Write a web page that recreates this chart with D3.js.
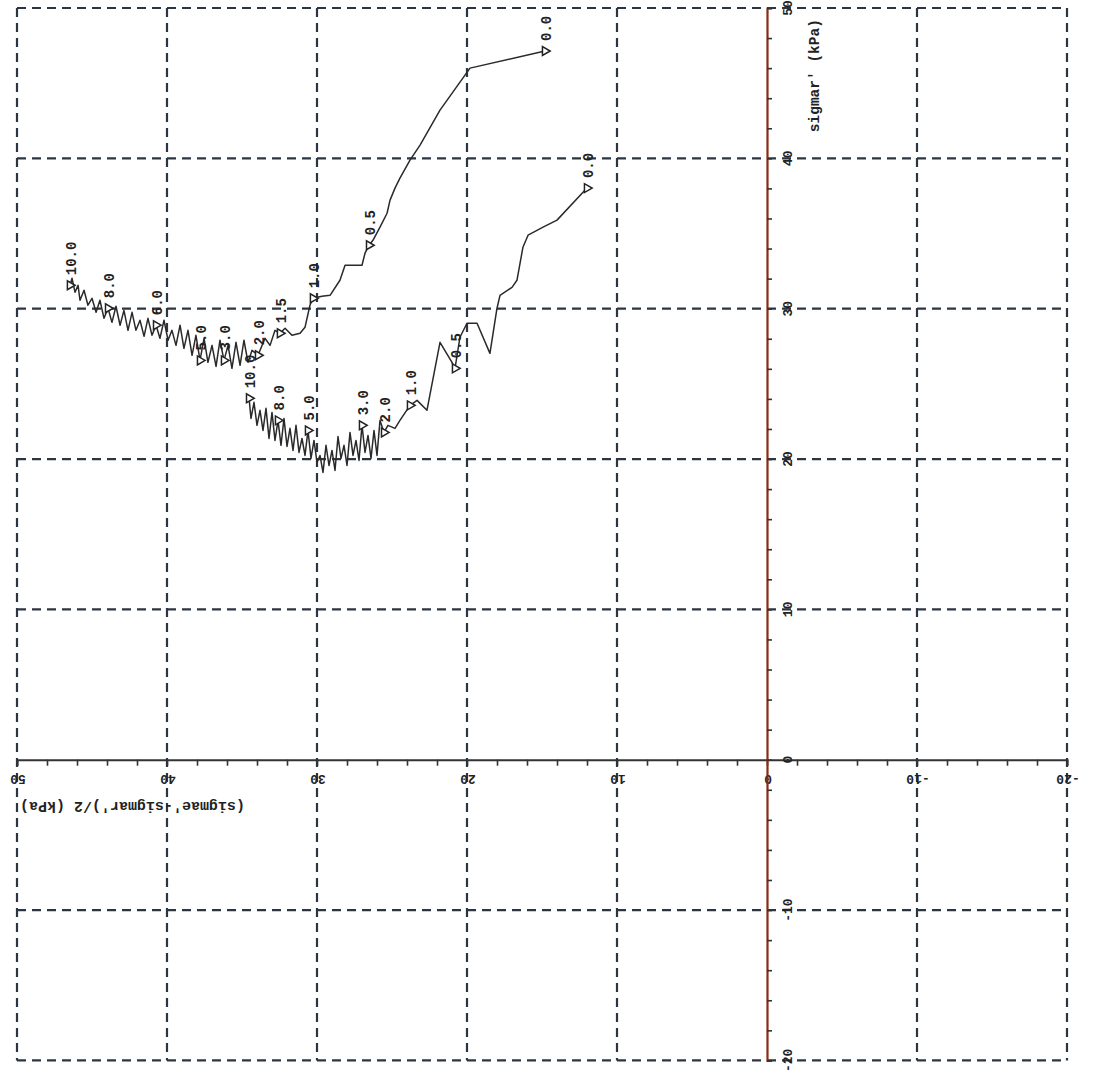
<!DOCTYPE html>
<html>
<head>
<meta charset="utf-8">
<script src="https://cdn.jsdelivr.net/npm/d3@7"></script>
<style>
  html, body { margin: 0; padding: 0; background: #fff; }
  svg { display: block; }
  text { font-family: "Liberation Mono", "DejaVu Sans Mono", monospace; font-weight: bold; fill: #222; }
</style>
</head>
<body>
<svg id="chart" width="1093" height="1076"></svg>
<script>
// Stress path, first test: [ (sigmae'-sigmar')/2 , sigmar' ] in kPa
const pathA = [
  [14.8, 47.14], [19.8, 46.0], [21.8, 43.21], [23.13, 40.88], [23.8, 39.88], [24.47, 38.68],
  [24.8, 38.02], [25.13, 37.22], [25.33, 36.35], [25.8, 35.42], [26.27, 34.55], [26.53, 34.22],
  [26.8, 33.69], [27.0, 32.89], [28.13, 32.89], [28.47, 31.89], [29.13, 30.89], [29.67, 30.83],
  [30.27, 30.69], [30.47, 30.23], [30.8, 28.76], [31.13, 28.36], [31.67, 28.23], [32.13, 28.7],
  [32.47, 28.36], [32.8, 28.56], [33.13, 27.56], [33.47, 28.03], [33.93, 26.9], [34.33, 27.23],
  [34.6, 26.43], [34.87, 27.9], [35.13, 26.23], [35.4, 27.76], [35.67, 26.03], [35.93, 27.56],
  [36.2, 26.56], [36.47, 27.9], [36.73, 26.16], [37.0, 27.56], [37.27, 26.43], [37.53, 28.03],
  [37.8, 26.56], [38.07, 28.23], [38.33, 26.9], [38.6, 28.56], [38.87, 27.36], [39.13, 28.9],
  [39.4, 27.56], [39.67, 28.56], [39.93, 27.9], [40.2, 29.23], [40.47, 28.03], [40.73, 28.9],
  [41.0, 28.23], [41.27, 29.36], [41.53, 28.16], [41.8, 29.23], [42.07, 28.56], [42.33, 29.76],
  [42.6, 28.56], [42.87, 29.89], [43.13, 28.9], [43.4, 30.16], [43.67, 29.09], [43.93, 30.03],
  [44.2, 29.36], [44.47, 30.56], [44.73, 29.76], [45.0, 30.69], [45.27, 30.23], [45.53, 31.23],
  [45.8, 30.56], [45.93, 31.56], [46.13, 31.09], [46.33, 32.02], [46.47, 31.56]
];
// Axial strain (%) written beside points of the first path: [point index, label]
const strainA = [[0, "0.0"], [11, "0.5"], [18, "1.0"], [24, "1.5"], [28, "2.0"], [36, "3.0"],
                 [42, "5.0"], [53, "6.0"], [65, "8.0"], [76, "10.0"]];

// Stress path, second test
const pathB = [
  [12.0, 38.02], [14.0, 35.89], [14.93, 35.42], [15.93, 34.89], [16.27, 34.09], [16.67, 31.89],
  [17.0, 31.42], [17.8, 30.89], [18.0, 30.03], [18.47, 27.03], [19.33, 29.03], [20.0, 29.03],
  [20.47, 28.1], [20.8, 26.03], [21.0, 26.43], [21.8, 27.76], [22.67, 23.24], [23.33, 23.9],
  [23.8, 23.57], [24.47, 22.57], [24.8, 22.04], [25.27, 22.24], [25.53, 21.77],
  [25.8, 22.57], [26.0, 20.24], [26.2, 21.9], [26.4, 20.04], [26.6, 21.57], [26.8, 20.44],
  [27.0, 22.24], [27.2, 19.91], [27.4, 21.24], [27.6, 20.24], [27.8, 21.77], [28.0, 19.57],
  [28.2, 20.91], [28.4, 20.04], [28.6, 21.5], [28.8, 19.24], [29.0, 20.57], [29.2, 19.57],
  [29.4, 20.91], [29.6, 19.11], [29.8, 20.24], [30.0, 19.77], [30.2, 21.24], [30.4, 20.04],
  [30.6, 21.9], [30.8, 20.24], [31.0, 21.37], [31.2, 20.44], [31.4, 22.24], [31.6, 20.57],
  [31.8, 22.04], [32.0, 20.84], [32.2, 22.7], [32.4, 20.91], [32.6, 22.57], [32.8, 21.24],
  [33.0, 23.1], [33.2, 21.37], [33.4, 23.37], [33.6, 21.9], [33.8, 23.24], [34.0, 22.24],
  [34.2, 23.77], [34.4, 22.7], [34.53, 24.04]
];
const strainB = [[0, "0.0"], [13, "0.5"], [18, "1.0"], [22, "2.0"], [29, "3.0"],
                 [47, "5.0"], [57, "8.0"], [67, "10.0"]];

// Axis ticks and titles
const xGridValues = [50, 40, 30, 20, 10, 0, -10, -20];
const yGridValues = [50, 40, 30, 20, 10, 0, -10, -20];
const xTitle = "(sigmae'-sigmar')/2 (kPa)";
const yTitle = "sigmar' (kPa)";

const svg = d3.select("#chart");
const x = d3.scaleLinear().domain([50, -20]).range([17, 1067]);
const y = d3.scaleLinear().domain([-20, 50]).range([1060.4, 8]);

const gridColor = "#2c3642";

// Dashed grid and frame
const grid = svg.append("g");
grid.selectAll("line.v").data(xGridValues.filter(v => v !== 0)).join("line")
  .attr("x1", d => x(d)).attr("x2", d => x(d))
  .attr("y1", y(50)).attr("y2", y(-20))
  .attr("stroke", gridColor).attr("stroke-width", 2.2).attr("stroke-dasharray", "9,6");
grid.selectAll("line.h").data(yGridValues.filter(v => v !== 0)).join("line")
  .attr("y1", d => y(d)).attr("y2", d => y(d))
  .attr("x1", x(50)).attr("x2", x(-20))
  .attr("stroke", gridColor).attr("stroke-width", 2.2).attr("stroke-dasharray", "9,6");

// Horizontal axis through sigmar' = 0
const xAxis = d3.axisBottom(x).tickValues(d3.range(-20, 50.1, 2)).tickSize(6).tickFormat("");
const gx = svg.append("g").attr("transform", `translate(0,${y(0)})`).call(xAxis);
gx.select(".domain").attr("stroke", "#333").attr("stroke-width", 2);
gx.selectAll(".tick line").attr("stroke", "#333").attr("stroke-width", 1.6);
// Tick labels, turned upside down
svg.append("g").selectAll("text").data(xGridValues).join("text")
  .attr("transform", d => `translate(${x(d) + 1},${y(0) + 19}) rotate(180)`)
  .attr("text-anchor", "middle").attr("dominant-baseline", "central")
  .attr("font-size", 13).text(d => d);

// Vertical axis through zero deviator stress
const yAxis = d3.axisRight(y).tickValues(d3.range(-20, 50.1, 2)).tickSize(5).tickFormat("");
const gy = svg.append("g").attr("transform", `translate(${x(0)},0)`).call(yAxis);
gy.select(".domain").attr("stroke", "#8a2a12").attr("stroke-width", 2.2);
gy.selectAll(".tick line").attr("stroke", "#333").attr("stroke-width", 1.6);
svg.append("g").selectAll("text").data(yGridValues).join("text")
  .attr("transform", d => `translate(${x(0) + 21},${y(d)}) rotate(-90)`)
  .attr("text-anchor", "middle").attr("dominant-baseline", "central")
  .attr("font-size", 13).text(d => d);

// Axis titles
svg.append("text")
  .attr("transform", `translate(${x(42.3)},${y(0) + 46}) rotate(180)`)
  .attr("text-anchor", "middle").attr("dominant-baseline", "central")
  .attr("font-size", 15).text(xTitle);
svg.append("text")
  .attr("transform", `translate(${x(0) + 48},${y(45.5)}) rotate(-90)`)
  .attr("text-anchor", "middle").attr("dominant-baseline", "central")
  .attr("font-size", 14.5).text(yTitle);

// Stress paths
const line = d3.line().x(d => x(d[0])).y(d => y(d[1]));
const paths = svg.append("g");
[pathA, pathB].forEach(p => {
  paths.append("path").datum(p).attr("d", line)
    .attr("fill", "none").attr("stroke", "#2a2a2a").attr("stroke-width", 1.5)
    .attr("stroke-linejoin", "round");
});

// Strain markers and labels
const tri = d3.symbol().type(d3.symbolTriangle).size(34);
function marks(p, labels) {
  const g = svg.append("g");
  labels.forEach(([i, lab]) => {
    const px = x(p[i][0]), py = y(p[i][1]);
    g.append("path").attr("d", tri())
      .attr("transform", `translate(${px},${py}) rotate(90)`)
      .attr("fill", "#fff").attr("stroke", "#222").attr("stroke-width", 1.5);
    g.append("text")
      .attr("transform", `translate(${px + 2},${py - 10}) rotate(-90)`)
      .attr("text-anchor", "start").attr("dominant-baseline", "central")
      .attr("font-size", 14).text(lab);
  });
}
marks(pathA, strainA);
marks(pathB, strainB);
</script>
</body>
</html>
